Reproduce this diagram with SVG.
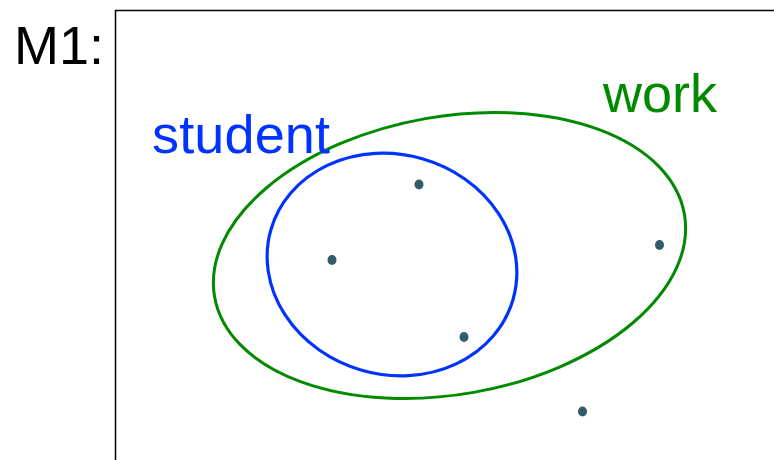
<svg xmlns="http://www.w3.org/2000/svg" width="774" height="460" viewBox="0 0 774 460">
<style>
.lbl{font-family:"Liberation Sans",Arial,sans-serif;font-size:54px}
.dot{fill:#335c6b}
</style>
<rect width="774" height="460" fill="#ffffff"/>
<g id="frame">
<path d="M115.5,460 L115.5,10.5 L774,10.5" fill="none" stroke="#000" stroke-width="1.5"/>
<text class="lbl" x="14" y="64" fill="#000">M1:</text>
</g>
<g id="work">
<ellipse cx="449.5" cy="255.5" rx="238.5" ry="139" transform="rotate(-10 449.5 255.5)" fill="none" stroke="#008a00" stroke-width="3"/>
<text class="lbl" x="603" y="112" fill="#008a00">work</text>
</g>
<g id="student">
<ellipse cx="392" cy="264.5" rx="126" ry="110" transform="rotate(16 392 264.5)" fill="none" stroke="#0033ff" stroke-width="3.2"/>
<text class="lbl" x="152" y="153" fill="#0033ff" textLength="178">student</text>
</g>
<g id="points">
<ellipse class="dot" cx="419" cy="184.5" rx="4.5" ry="5"/>
<ellipse class="dot" cx="332" cy="260" rx="4.5" ry="5"/>
<ellipse class="dot" cx="464" cy="337" rx="4.5" ry="5"/>
<ellipse class="dot" cx="582.5" cy="411.5" rx="4.5" ry="5"/>
<ellipse class="dot" cx="659.5" cy="245" rx="4.5" ry="5"/>
</g>
</svg>
